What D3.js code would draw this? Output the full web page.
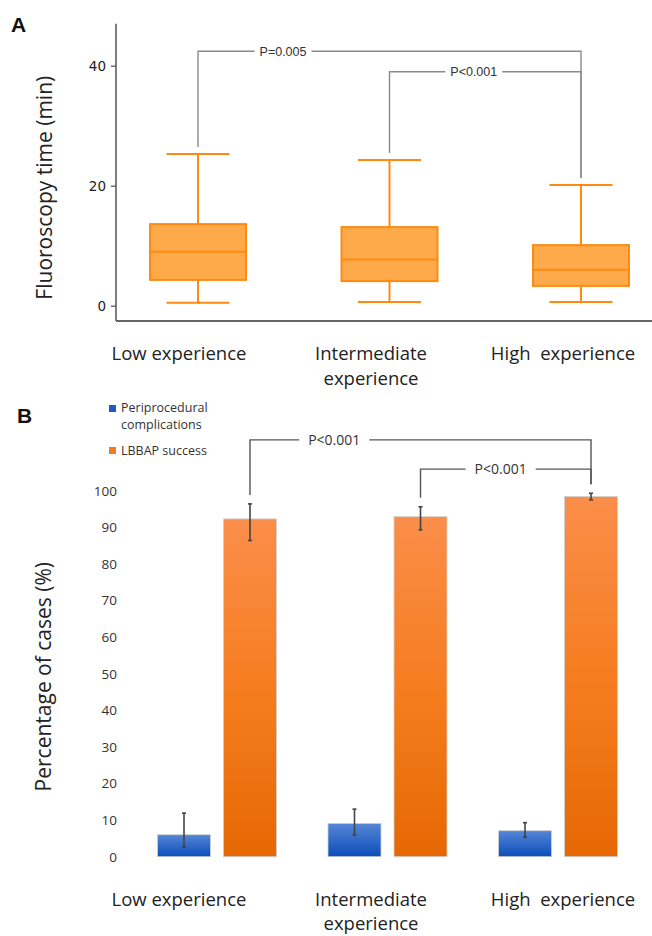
<!DOCTYPE html>
<html>
<head>
<meta charset="utf-8">
<script src="https://cdn.jsdelivr.net/npm/d3@7"></script>
<style>
  html, body { margin: 0; padding: 0; background: #fff; }
  svg { display: block; }
  text { white-space: pre; }
</style>
</head>
<body>
<script>
// ---------- data ----------
const categories = ["Low experience", "Intermediate experience", "High experience"];
const categoryLabelLines = [["Low experience"], ["Intermediate", "experience"], ["High  experience"]];

// Panel A: fluoroscopy time (min), box plot summary
const fluoroMin    = [0.5, 0.6, 0.6];
const fluoroQ1     = [4.3, 4.1, 3.3];
const fluoroMedian = [9.0, 7.7, 6.0];
const fluoroQ3     = [13.6, 13.1, 10.1];
const fluoroMax    = [25.3, 24.3, 20.1];
const fluoroTicks  = [0, 20, 40];
const fluoroComparisons = [
  { from: 0, to: 2, level: 42.4, label: "P=0.005" },
  { from: 1, to: 2, level: 39.0, label: "P<0.001" }
];

// Panel B: percentage of cases (%)
const seriesNames = ["Periprocedural complications", "LBBAP success"];
const complications     = [6.0, 9.1, 7.1];
const complicationsLow  = [2.6, 5.9, 5.3];
const complicationsHigh = [11.9, 13.0, 9.3];
const success     = [92.3, 92.9, 98.4];
const successLow  = [86.4, 89.3, 97.5];
const successHigh = [96.4, 95.6, 99.3];
const percentTicks = [0, 10, 20, 30, 40, 50, 60, 70, 80, 90, 100];
const percentComparisons = [
  { from: 0, to: 2, level: 113.9, label: "P<0.001" },
  { from: 1, to: 2, level: 105.9, label: "P<0.001" }
];

// ---------- drawing ----------
const W = 652, H = 936;
const svg = d3.select("body").append("svg").attr("width", W).attr("height", H);
const defs = svg.append("defs");

const gOr = defs.append("linearGradient").attr("id", "gradOrange").attr("x1", 0).attr("y1", 0).attr("x2", 0).attr("y2", 1);
gOr.append("stop").attr("offset", "0%").attr("stop-color", "#FB8E4A");
gOr.append("stop").attr("offset", "55%").attr("stop-color", "#F57B1C");
gOr.append("stop").attr("offset", "100%").attr("stop-color", "#E56804");
const gBl = defs.append("linearGradient").attr("id", "gradBlue").attr("x1", 0).attr("y1", 0).attr("x2", 0).attr("y2", 1);
gBl.append("stop").attr("offset", "0%").attr("stop-color", "#5686D6");
gBl.append("stop").attr("offset", "100%").attr("stop-color", "#0B4DBA");

const SANS = "'Open Sans', 'Noto Sans', sans-serif";
const TAHO = "'DejaVu Sans', sans-serif";

// label positions shared by both panels
const xLabel = d3.scalePoint().domain(categories).range([179, 563]);

// ===== Panel A =====
const yA = d3.scaleLinear().domain([0, 40]).range([305.7, 65.7]);
const xA = d3.scalePoint().domain(categories).range([198, 581]);
const axisLeftX = 116, axisBottomY = 321;

const gA = svg.append("g");
gA.append("text").attr("x", 11).attr("y", 32).text("A")
  .attr("font-family", "'Liberation Sans', Arial, sans-serif").attr("font-weight", "bold")
  .attr("font-size", 21).attr("fill", "#111");

// axes
const axA = d3.axisLeft(yA).tickValues(fluoroTicks).tickSize(5).tickPadding(5);
const axAg = gA.append("g").attr("transform", `translate(${axisLeftX},0)`).call(axA);
axAg.select(".domain").remove();
axAg.selectAll(".tick line").attr("stroke", "#555").attr("stroke-width", 1.3);
axAg.selectAll(".tick text").attr("font-family", TAHO).attr("font-size", 13.5).attr("fill", "#222");
gA.append("line").attr("x1", axisLeftX).attr("x2", axisLeftX).attr("y1", yA(47)).attr("y2", axisBottomY)
  .attr("stroke", "#555").attr("stroke-width", 1.5);
gA.append("line").attr("x1", axisLeftX).attr("x2", W).attr("y1", axisBottomY).attr("y2", axisBottomY)
  .attr("stroke", "#666").attr("stroke-width", 1.8);

// y title
gA.append("text").attr("transform", `translate(51.5,${(yA(0) + yA(40)) / 2 + 2}) rotate(-90)`)
  .attr("text-anchor", "middle").attr("font-family", SANS).attr("font-size", 21).attr("fill", "#222")
  .text("Fluoroscopy time (min)");

// boxes
const boxW = 96, capW = 63;
const ORANGE_LINE = "#FF8A12", ORANGE_FILL = "#FFAA4A";
categories.forEach((c, i) => {
  const cx = xA(c);
  const g = gA.append("g");
  // whiskers
  g.append("line").attr("x1", cx).attr("x2", cx).attr("y1", yA(fluoroMax[i])).attr("y2", yA(fluoroQ3[i]))
    .attr("stroke", ORANGE_LINE).attr("stroke-width", 2);
  g.append("line").attr("x1", cx).attr("x2", cx).attr("y1", yA(fluoroQ1[i])).attr("y2", yA(fluoroMin[i]))
    .attr("stroke", ORANGE_LINE).attr("stroke-width", 2);
  g.append("line").attr("x1", cx - capW / 2).attr("x2", cx + capW / 2).attr("y1", yA(fluoroMax[i])).attr("y2", yA(fluoroMax[i]))
    .attr("stroke", ORANGE_LINE).attr("stroke-width", 2);
  g.append("line").attr("x1", cx - capW / 2).attr("x2", cx + capW / 2).attr("y1", yA(fluoroMin[i])).attr("y2", yA(fluoroMin[i]))
    .attr("stroke", ORANGE_LINE).attr("stroke-width", 2);
  // box
  g.append("rect").attr("x", cx - boxW / 2).attr("y", yA(fluoroQ3[i]))
    .attr("width", boxW).attr("height", yA(fluoroQ1[i]) - yA(fluoroQ3[i]))
    .attr("fill", ORANGE_FILL).attr("stroke", ORANGE_LINE).attr("stroke-width", 2);
  g.append("line").attr("x1", cx - boxW / 2).attr("x2", cx + boxW / 2).attr("y1", yA(fluoroMedian[i])).attr("y2", yA(fluoroMedian[i]))
    .attr("stroke", ORANGE_LINE).attr("stroke-width", 2);
});

// category labels A
categoryLabelLines.forEach((lines, i) => {
  const t = gA.append("text").attr("x", xLabel(categories[i])).attr("y", 360)
    .attr("text-anchor", "middle").attr("font-family", SANS).attr("font-size", 18.5).attr("fill", "#222");
  lines.forEach((l, k) => t.append("tspan").attr("x", xLabel(categories[i])).attr("dy", k === 0 ? 0 : 25).text(l));
});

// significance brackets
function drawBrackets(g, comps, xPos, yScale, tops, legGap, labelFrac, font, fontSize, pad, color) {
  comps.forEach((cmp, j) => {
    const x1 = xPos(cmp.from), x2 = xPos(cmp.to);
    const y = yScale(cmp.level);
    const yb1 = yScale(tops[cmp.from]) - legGap, yb2 = yScale(tops[cmp.to]) - legGap;
    const tx = x1 + (x2 - x1) * labelFrac[j];
    const txt = g.append("text").attr("x", tx).attr("y", y).attr("dy", "0.35em")
      .attr("text-anchor", "middle").attr("font-family", font).attr("font-size", fontSize).attr("fill", "#333")
      .text(cmp.label);
    const w = txt.node().getComputedTextLength();
    g.append("path").attr("d", `M${x1},${yb1}V${y}H${tx - w / 2 - pad}`)
      .attr("fill", "none").attr("stroke", color).attr("stroke-width", 1.4);
    g.append("path").attr("d", `M${tx + w / 2 + pad},${y}H${x2}V${yb2}`)
      .attr("fill", "none").attr("stroke", color).attr("stroke-width", 1.4);
  });
}
drawBrackets(gA, fluoroComparisons, i => xA(categories[i]), yA, fluoroMax, 7, [0.222, 0.44],
  "'Liberation Sans', Arial, sans-serif", 12.5, 5, "#8a8a8a");

// ===== Panel B =====
const yB = d3.scaleLinear().domain([0, 100]).range([856.7, 490.7]);
const xB = d3.scalePoint().domain(categories).range([217, 558]);
const barW = 53, barOff = 33;
const gB = svg.append("g");

gB.append("text").attr("x", 17).attr("y", 423).text("B")
  .attr("font-family", "'Liberation Sans', Arial, sans-serif").attr("font-weight", "bold")
  .attr("font-size", 21).attr("fill", "#111");

// legend
const legendColors = ["#1F5BC6", "#F47A22"];
const legendY = [405, 447];
seriesNames.forEach((s, i) => {
  gB.append("rect").attr("x", 109).attr("y", legendY[i]).attr("width", 7).attr("height", 7).attr("fill", legendColors[i]);
});
gB.append("text").attr("x", 121).attr("y", 412).attr("font-family", SANS).attr("font-size", 12.5).attr("fill", "#333")
  .call(t => {
    t.append("tspan").attr("x", 121).text("Periprocedural");
    t.append("tspan").attr("x", 121).attr("dy", 17).text("complications");
  });
gB.append("text").attr("x", 121).attr("y", 455).attr("font-family", SANS).attr("font-size", 12.5).attr("fill", "#333")
  .text(seriesNames[1]);

// y axis (labels only)
const axB = d3.axisLeft(yB).tickValues(percentTicks).tickSize(0).tickPadding(0);
const axBg = gB.append("g").attr("transform", "translate(117,0)").call(axB);
axBg.select(".domain").remove();
axBg.selectAll(".tick line").remove();
axBg.selectAll(".tick text").attr("font-family", SANS).attr("font-size", 13.5).attr("fill", "#333");

gB.append("text").attr("transform", `translate(51,${(yB(0) + yB(100)) / 2 + 3}) rotate(-90)`)
  .attr("text-anchor", "middle").attr("font-family", SANS).attr("font-size", 21).attr("fill", "#222")
  .text("Percentage of cases (%)");

// bars
const series = [
  { vals: complications, lo: complicationsLow, hi: complicationsHigh, fill: "url(#gradBlue)", off: -barOff },
  { vals: success, lo: successLow, hi: successHigh, fill: "url(#gradOrange)", off: barOff }
];
series.forEach(s => {
  categories.forEach((c, i) => {
    const cx = xB(c) + s.off;
    gB.append("rect").attr("x", cx - barW / 2).attr("y", yB(s.vals[i]))
      .attr("width", barW).attr("height", yB(0) - yB(s.vals[i]))
      .attr("fill", s.fill).attr("stroke", "#d0d0d0").attr("stroke-width", 0.8);
  });
});
series.forEach(s => {
  categories.forEach((c, i) => {
    const cx = xB(c) + s.off;
    const eg = gB.append("g").attr("stroke", "#444").attr("stroke-width", 1.6);
    eg.append("line").attr("x1", cx).attr("x2", cx).attr("y1", yB(s.hi[i])).attr("y2", yB(s.lo[i]));
    eg.append("line").attr("x1", cx - 2).attr("x2", cx + 2).attr("y1", yB(s.hi[i])).attr("y2", yB(s.hi[i]));
    eg.append("line").attr("x1", cx - 2).attr("x2", cx + 2).attr("y1", yB(s.lo[i])).attr("y2", yB(s.lo[i]));
  });
});

// category labels B
categoryLabelLines.forEach((lines, i) => {
  const t = gB.append("text").attr("x", xLabel(categories[i])).attr("y", 906)
    .attr("text-anchor", "middle").attr("font-family", SANS).attr("font-size", 18.5).attr("fill", "#222");
  lines.forEach((l, k) => t.append("tspan").attr("x", xLabel(categories[i])).attr("dy", k === 0 ? 0 : 24).text(l));
});

drawBrackets(gB, percentComparisons, i => xB(categories[i]) + barOff, yB, successHigh, 9, [0.247, 0.47],
  SANS, 14, 9, "#555");
</script>
</body>
</html>
